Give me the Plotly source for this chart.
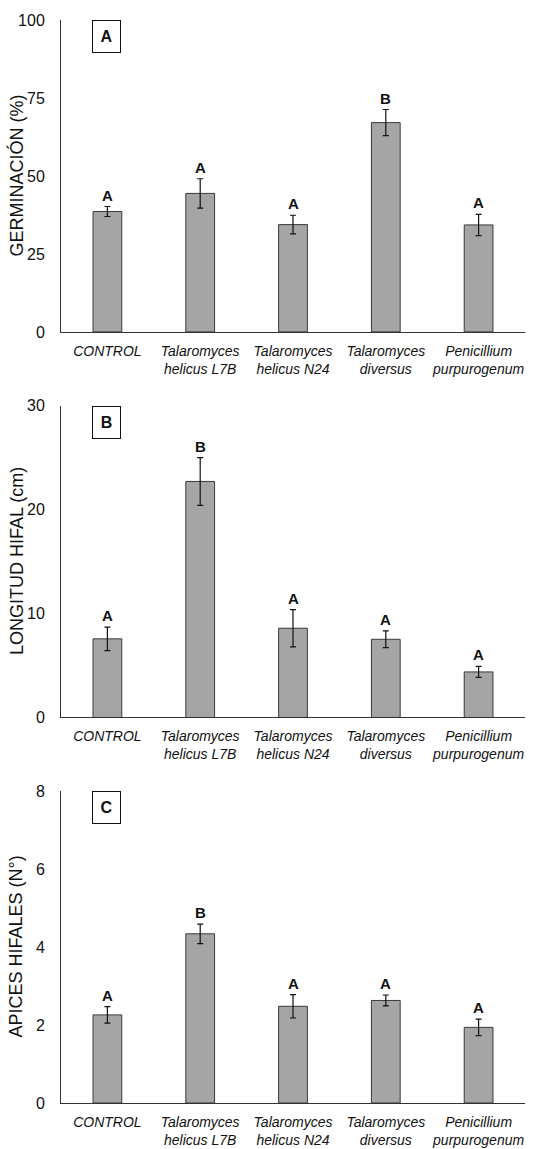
import plotly.graph_objects as go

categories = ["CONTROL", "Talaromyces<br>helicus L7B", "Talaromyces<br>helicus N24",
              "Talaromyces<br>diversus", "Penicillium<br>purpurogenum"]

germ_mean = [38.6, 44.4, 34.4, 67.1, 34.3]
germ_err = [1.6, 4.7, 3.0, 4.2, 3.4]
germ_sig = ["A", "A", "A", "B", "A"]

long_mean = [7.56, 22.7, 8.58, 7.52, 4.38]
long_err = [1.13, 2.3, 1.8, 0.8, 0.53]
long_sig = ["A", "B", "A", "A", "A"]

apic_mean = [2.26, 4.34, 2.48, 2.63, 1.94]
apic_err = [0.21, 0.25, 0.30, 0.14, 0.21]
apic_sig = ["A", "B", "A", "A", "A"]

panels = [
    ("A", "GERMINACIÓN (%)", germ_mean, germ_err, germ_sig, [0, 100], [0, 25, 50, 75, 100], [0.712, 1.0]),
    ("B", "LONGITUD HIFAL (cm)", long_mean, long_err, long_sig, [0, 30], [0, 10, 20, 30], [0.356, 0.644]),
    ("C", "APICES HIFALES (N°)", apic_mean, apic_err, apic_sig, [0, 8], [0, 2, 4, 6, 8], [0.0, 0.288]),
]

FONT = "Liberation Sans, Arial, sans-serif"
xpos = list(range(len(categories)))

fig = go.Figure()
annotations = []
layout_axes = {}
for i, (lab, title, mean, err, sig, yr, ytv, dom) in enumerate(panels):
    n = "" if i == 0 else str(i + 1)
    xa, ya = "x" + n, "y" + n
    fig.add_trace(go.Bar(
        x=xpos, y=mean, xaxis=xa, yaxis=ya, width=0.31,
        marker=dict(color="#a5a5a5", line=dict(color="#3a3a3a", width=1)),
        error_y=dict(type="data", array=err, visible=True, color="#111111", thickness=1.2, width=3),
        showlegend=False, hoverinfo="skip",
    ))
    layout_axes["xaxis" + n] = dict(
        domain=[0, 1], anchor=ya, range=[-0.5, 4.5], tickvals=xpos, ticktext=categories,
        showline=True, linecolor="#333333", linewidth=1, showgrid=False, zeroline=False,
        ticks="outside", ticklen=6, tickcolor="rgba(0,0,0,0)",
        tickfont=dict(family=FONT, size=14, color="#111111", style="italic"),
        fixedrange=True, automargin=False,
    )
    layout_axes["yaxis" + n] = dict(
        domain=dom, anchor=xa, range=yr, tickvals=ytv,
        showline=True, linecolor="#333333", linewidth=1, showgrid=False, zeroline=False,
        ticks="outside", ticklen=12, tickcolor="rgba(0,0,0,0)",
        tickfont=dict(family=FONT, size=16, color="#111111"),
        fixedrange=True, automargin=False,
    )
    # y-axis title (positioned like the original, independent of tick width)
    annotations.append(dict(
        xref="paper", yref=ya + " domain", x=(16.5 - 61) / 464, y=0.5,
        xanchor="center", yanchor="middle", textangle=-90,
        text=title, showarrow=False,
        font=dict(family=FONT, size=18, color="#111111"),
    ))
    # panel label box
    annotations.append(dict(
        xref=xa + " domain", yref=ya + " domain", x=0.066, y=1.0, xanchor="left", yanchor="top",
        text="<b>%s</b>" % lab, showarrow=False, bordercolor="#111111", borderwidth=1,
        borderpad=0, width=27, height=31, bgcolor="white",
        font=dict(family=FONT, size=16, color="#111111"),
    ))
    for xi, m, e, s in zip(xpos, mean, err, sig):
        annotations.append(dict(
            xref=xa, yref=ya, x=xi, y=m + e, xanchor="center", yanchor="bottom", yshift=1,
            text="<b>%s</b>" % s, showarrow=False,
            font=dict(family=FONT, size=15, color="#111111"),
        ))

fig.update_layout(
    width=543, height=1149,
    margin=dict(l=61, r=18, t=20, b=46, autoexpand=False),
    paper_bgcolor="white", plot_bgcolor="white",
    annotations=annotations,
    **layout_axes,
)

fig.write_html(
    "out.html",
    config={"displayModeBar": False, "staticPlot": True},
    post_script="document.body.style.margin='0';document.body.style.overflow='hidden';",
)
